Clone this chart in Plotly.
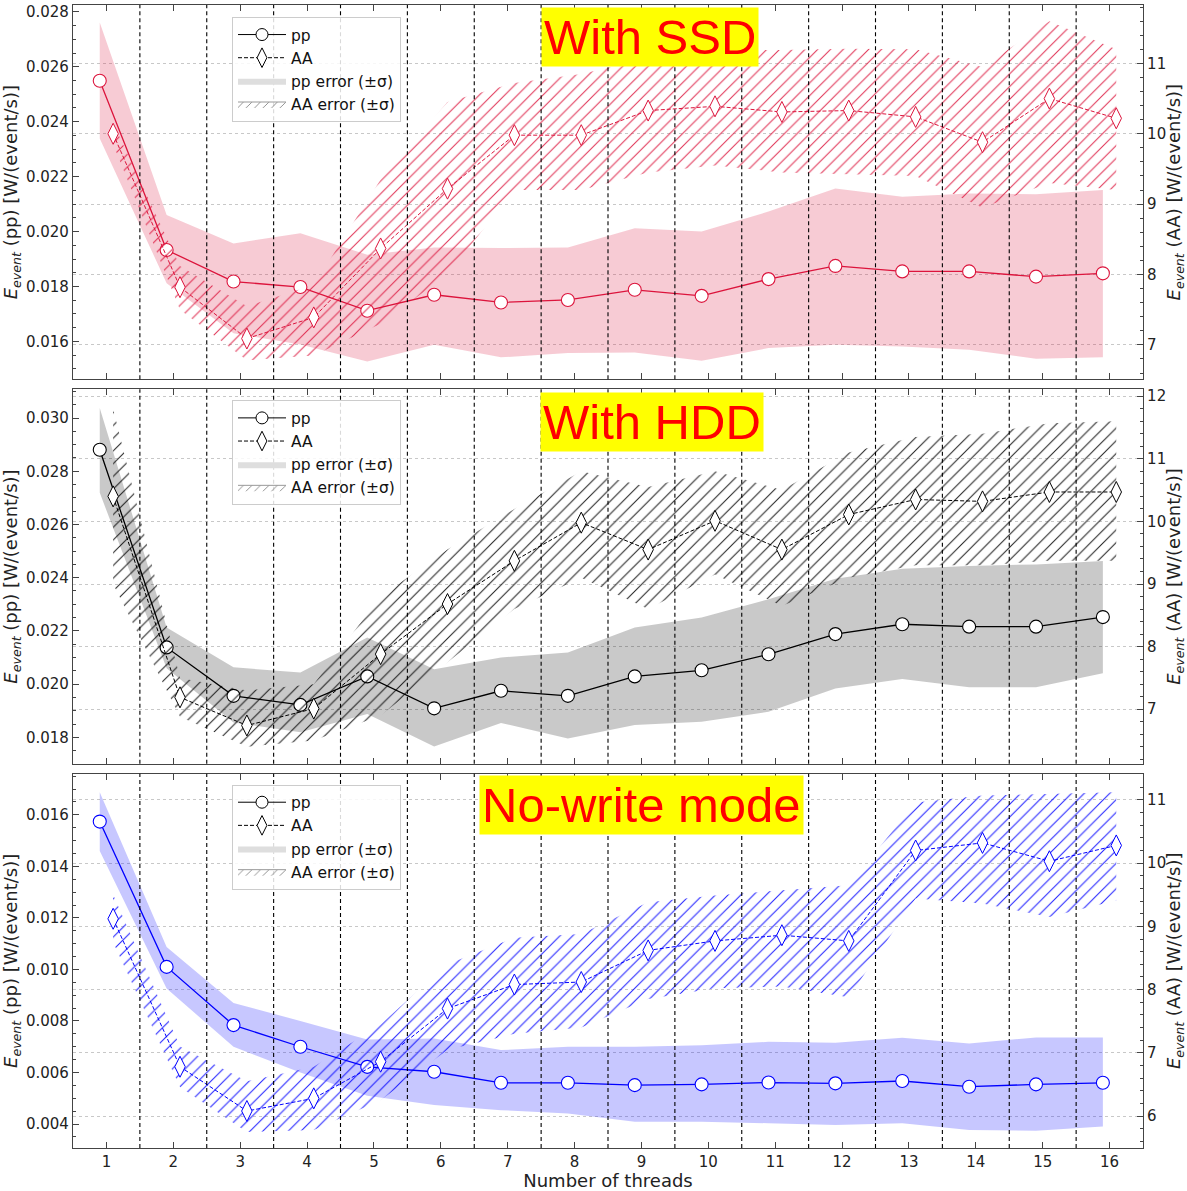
import plotly.graph_objects as go

# ---------------- data ----------------
threads = list(range(1, 17))
x_ticks = threads

# With SSD
ssd_pp = [0.02549, 0.01933, 0.01818, 0.01798, 0.01712, 0.0177, 0.01742, 0.01751,
          0.01788, 0.01766, 0.01827, 0.01875, 0.01855, 0.01855, 0.01836, 0.01848]
ssd_pp_hi = [0.02761, 0.0206, 0.01957, 0.01994, 0.01916, 0.01942, 0.0194, 0.01942,
             0.02012, 0.0200, 0.02073, 0.02157, 0.02127, 0.02139, 0.02136, 0.02151]
ssd_pp_lo = [0.02339, 0.01812, 0.0163, 0.01589, 0.01527, 0.01588, 0.01542, 0.01558,
             0.0156, 0.0153, 0.01576, 0.01588, 0.01582, 0.0157, 0.01537, 0.01542]
ssd_aa = [10.0, 7.82, 7.09, 7.39, 8.37, 9.22, 9.98, 9.98,
          10.33, 10.39, 10.31, 10.33, 10.24, 9.88, 10.50, 10.22]
ssd_aa_hi = [10.15, 8.12, 7.55, 7.85, 9.35, 10.45, 10.72, 10.85,
             11.07, 11.19, 11.19, 11.21, 11.2, 10.95, 11.6, 11.2]
ssd_aa_lo = [9.85, 7.5, 6.78, 6.85, 7.3, 8.0, 9.2, 9.2,
             9.45, 9.55, 9.45, 9.42, 9.4, 8.95, 9.3, 9.2]

# With HDD
hdd_pp = [0.02881, 0.02138, 0.01956, 0.01922, 0.02029, 0.01909, 0.01975, 0.01956,
          0.02029, 0.02052, 0.02112, 0.02188, 0.02225, 0.02216, 0.02216, 0.02252]
hdd_pp_hi = [0.03038, 0.02213, 0.02063, 0.02044, 0.02175, 0.02056, 0.0210, 0.02119,
             0.02213, 0.0225, 0.02319, 0.02396, 0.02434, 0.02444, 0.0245, 0.02463]
hdd_pp_lo = [0.02719, 0.0206, 0.01856, 0.01819, 0.01888, 0.01766, 0.01854, 0.01796,
             0.01846, 0.01859, 0.01896, 0.01984, 0.02019, 0.01988, 0.01988, 0.02041]
hdd_aa = [10.40, 7.19, 6.74, 7.01, 7.88, 8.68, 9.37, 9.98,
          9.55, 10.01, 9.55, 10.11, 10.35, 10.32, 10.47, 10.47]
hdd_aa_hi = [11.8, 7.5, 7.3, 7.4, 8.8, 9.55, 10.2, 10.8,
             10.55, 10.8, 10.5, 11.1, 11.35, 11.4, 11.57, 11.6]
hdd_aa_lo = [9.0, 6.88, 6.4, 6.5, 6.9, 7.75, 8.6, 9.1,
             8.6, 9.15, 8.65, 9.1, 9.3, 9.3, 9.37, 9.37]

# No-write mode
nw_pp = [0.01574, 0.0101, 0.00784, 0.0070, 0.00622, 0.00603, 0.0056, 0.0056,
         0.00551, 0.00554, 0.00561, 0.00558, 0.00567, 0.00545, 0.00554, 0.0056]
nw_pp_hi = [0.01688, 0.01087, 0.0087, 0.0080, 0.00728, 0.00732, 0.00687, 0.0070,
            0.0070, 0.00706, 0.00719, 0.00716, 0.00735, 0.00713, 0.00736, 0.00736]
nw_pp_lo = [0.0146, 0.00926, 0.0070, 0.0060, 0.0051, 0.00474, 0.00454, 0.00441,
            0.00409, 0.00409, 0.00403, 0.00396, 0.00403, 0.00377, 0.00374, 0.0039]
nw_aa = [9.12, 6.78, 6.08, 6.28, 6.86, 7.70, 8.08, 8.12,
         8.62, 8.77, 8.86, 8.77, 10.2, 10.32, 10.03, 10.28]
nw_aa_hi = [9.5, 7.1, 6.55, 6.78, 7.45, 8.4, 8.82, 8.88,
            9.38, 9.49, 9.57, 9.65, 10.96, 11.07, 11.09, 11.12]
nw_aa_lo = [8.75, 6.46, 5.75, 5.78, 6.25, 7.05, 7.3, 7.4,
            7.85, 8.02, 8.05, 7.88, 9.44, 9.36, 9.15, 9.41]

panel_titles = ["With SSD", "With HDD", "No-write mode"]
legend_labels = ["pp", "AA", "pp error (±σ)", "AA error (±σ)"]
x_title = "Number of threads"
y_left_title = "<i>E</i><sub><i>event</i></sub> (pp) [W/(event/s)]"
y_right_title = "<i>E</i><sub><i>event</i></sub> (AA) [W/(event/s)]"

# ---------------- styling ----------------
W, H = 1187, 1191
ML, MR, MT, MB = 73, 44, 3, 43
PW, PH = W - ML - MR, H - MT - MB
FONT = "DejaVu Sans"

panels = [
    dict(pp=ssd_pp, pp_hi=ssd_pp_hi, pp_lo=ssd_pp_lo, aa=ssd_aa, aa_hi=ssd_aa_hi, aa_lo=ssd_aa_lo,
         color="#dc143c", band="rgba(220,20,60,0.22)",
         yl=[0.01462, 0.02825], yr=[6.51, 11.83], ytop=3, ybot=378,
         title_xy=(650, 35), legend_xy=(232, 15)),
    dict(pp=hdd_pp, pp_hi=hdd_pp_hi, pp_lo=hdd_pp_lo, aa=hdd_aa, aa_hi=hdd_aa_hi, aa_lo=hdd_aa_lo,
         color="#000000", band="rgba(0,0,0,0.21)",
         yl=[0.01701, 0.03108], yr=[6.13, 12.11], ytop=388, ybot=763,
         title_xy=(652, 421), legend_xy=(232, 399)),
    dict(pp=nw_pp, pp_hi=nw_pp_hi, pp_lo=nw_pp_lo, aa=nw_aa, aa_hi=nw_aa_hi, aa_lo=nw_aa_lo,
         color="#0000ff", band="rgba(0,0,255,0.22)",
         yl=[0.00307, 0.0176], yr=[5.495, 11.415], ytop=773, ybot=1148,
         title_xy=(641, 804), legend_xy=(232, 784)),
]

PP_OFF, AA_OFF = -0.1, 0.1

fig = go.Figure()
layout = dict(
    width=W, height=H, autosize=False,
    margin=dict(l=ML, r=MR, t=MT, b=MB, pad=0),
    paper_bgcolor="white", plot_bgcolor="white",
    font=dict(family=FONT, size=15, color="#222"),
    showlegend=True,
)

def px2fx(px):
    return (px - ML) / PW

def py2fy(py):
    return 1 - (py - MT) / PH

axis_line = "#444"

annotations = []
shapes = []
for i, p in enumerate(panels):
    n = i + 1
    xa = "x" if n == 1 else f"x{n}"
    yl_name = f"y{2*n-1}" if n > 1 else "y"
    yr_name = f"y{2*n}"
    leg = "legend" if n == 1 else f"legend{n}"
    dom = [py2fy(p["ybot"]), py2fy(p["ytop"])]
    c = p["color"]

    xpp = [t + PP_OFF for t in threads]
    xaa = [t + AA_OFF for t in threads]

    # pp error band
    fig.add_trace(go.Scatter(
        x=xpp + xpp[::-1], y=p["pp_lo"] + p["pp_hi"][::-1],
        fill="toself", fillcolor=p["band"], line=dict(width=0),
        mode="lines", hoverinfo="skip", showlegend=False,
        xaxis=xa, yaxis=yl_name))
    # pp line
    fig.add_trace(go.Scatter(
        x=xpp, y=p["pp"], mode="lines+markers",
        line=dict(color=c, width=1.3),
        marker=dict(symbol="circle", size=13, color="white", line=dict(color=c, width=1.1)),
        showlegend=False, xaxis=xa, yaxis=yl_name))
    # AA hatched band
    fig.add_trace(go.Scatter(
        x=xaa + xaa[::-1], y=p["aa_lo"] + p["aa_hi"][::-1],
        fill="toself", fillcolor="rgba(0,0,0,0)", line=dict(width=0),
        fillpattern=dict(shape="/", fgcolor=c, size=9, solidity=0.12, fillmode="replace"),
        mode="lines", hoverinfo="skip", showlegend=False, opacity=0.85,
        xaxis=xa, yaxis=yr_name))
    # AA line
    fig.add_trace(go.Scatter(
        x=xaa, y=p["aa"], mode="lines+markers",
        line=dict(color=c, width=1, dash="4px,2px"),
        marker=dict(symbol="diamond-tall", size=15, color="white", line=dict(color=c, width=1)),
        showlegend=False, xaxis=xa, yaxis=yr_name))

    # legend-only entries (black symbols)
    fig.add_trace(go.Scatter(
        x=[None], y=[None], name=legend_labels[0], mode="lines+markers",
        line=dict(color="black", width=1),
        marker=dict(symbol="circle", size=12, color="white", line=dict(color="black", width=1)),
        legend=leg, xaxis=xa, yaxis=yl_name))
    fig.add_trace(go.Scatter(
        x=[None], y=[None], name=legend_labels[1], mode="lines+markers",
        line=dict(color="black", width=1, dash="4px,2px"),
        marker=dict(symbol="diamond-tall", size=14, color="white", line=dict(color="black", width=1)),
        legend=leg, xaxis=xa, yaxis=yl_name))
    fig.add_trace(go.Scatter(
        x=[None], y=[None], name=legend_labels[2], mode="lines",
        fill="toself", fillcolor="#dedede", line=dict(width=0, color="#dedede"),
        legend=leg, xaxis=xa, yaxis=yl_name))
    fig.add_trace(go.Scatter(
        x=[None], y=[None], name=legend_labels[3], mode="lines",
        fill="toself", fillcolor="rgba(0,0,0,0)", line=dict(width=1, color="#999"),
        fillpattern=dict(shape="/", fgcolor="#888", size=6, solidity=0.15, fillmode="replace"),
        legend=leg, xaxis=xa, yaxis=yl_name))

    lx, ly = p["legend_xy"]
    layout[leg] = dict(
        x=px2fx(lx), y=py2fy(ly), xanchor="left", yanchor="top",
        bgcolor="rgba(255,255,255,0.85)", bordercolor="#cccccc", borderwidth=1,
        font=dict(family=FONT, size=15.5, color="#111"),
        itemwidth=48, tracegroupgap=0)

    xkey = "xaxis" if n == 1 else f"xaxis{n}"
    layout[xkey] = dict(
        domain=[0, 1], anchor=yl_name, range=[0.5, 16.5],
        tickmode="array", tickvals=x_ticks, ticktext=[str(t) for t in x_ticks],
        ticks="inside", ticklen=6, tickcolor=axis_line, showticklabels=(n == 3),
        showline=True, linecolor=axis_line, linewidth=1.2, mirror="ticks",
        showgrid=False, zeroline=False,
        tickfont=dict(family=FONT, size=15, color="#222"),
    )
    if n == 3:
        layout[xkey]["title"] = dict(text=x_title, font=dict(family=FONT, size=18, color="#222"), standoff=0)

    ylkey = "yaxis" if n == 1 else f"yaxis{2*n-1}"
    yrkey = f"yaxis{2*n}"
    layout[ylkey] = dict(
        domain=dom, anchor=xa, range=p["yl"], dtick=0.002, tickformat=".3f",
        ticks="inside", ticklen=6, tickcolor=axis_line,
        minor=dict(ticks="inside", ticklen=3, dtick=0.0005, tickcolor=axis_line, showgrid=False),
        showline=True, linecolor=axis_line, linewidth=1.2,
        showgrid=False, zeroline=False,
        tickfont=dict(family=FONT, size=15, color="#222"),
        title=dict(text=y_left_title, font=dict(family=FONT, size=18, color="#222"), standoff=3),
    )
    layout[yrkey] = dict(
        domain=dom, anchor=xa, overlaying=yl_name, side="right",
        range=p["yr"], dtick=1,
        ticks="inside", ticklen=6, tickcolor=axis_line,
        minor=dict(ticks="inside", ticklen=3, dtick=0.2, tickcolor=axis_line, showgrid=False),
        showline=True, linecolor=axis_line, linewidth=1.2,
        showgrid=True, gridcolor="#c8c8c8", gridwidth=0.8, griddash="dot",
        zeroline=False,
        tickfont=dict(family=FONT, size=15, color="#222"),
        title=dict(text=y_right_title, font=dict(family=FONT, size=18, color="#222"), standoff=2),
    )

    # vertical dashed separators between thread counts
    for t in threads[:-1]:
        shapes.append(dict(type="line", xref=xa, yref=f"{yl_name} domain",
                           x0=t + 0.5, x1=t + 0.5, y0=0, y1=1,
                           line=dict(color="black", width=1.1, dash="4px,3px"), layer="above"))

    tx, ty = p["title_xy"]
    annotations.append(dict(
        text=panel_titles[i], xref="paper", yref="paper",
        x=px2fx(tx), y=py2fy(ty), xanchor="center", yanchor="middle",
        showarrow=False, bgcolor="#ffff00", borderpad=2,
        font=dict(family="Liberation Sans", size=49, color="#ff0000")))

layout["annotations"] = annotations
layout["shapes"] = shapes
fig.update_layout(**layout)

fig.write_html("out.html", config={"displayModeBar": False},
               post_script="document.body.style.margin='0';document.body.style.overflow='hidden';")
